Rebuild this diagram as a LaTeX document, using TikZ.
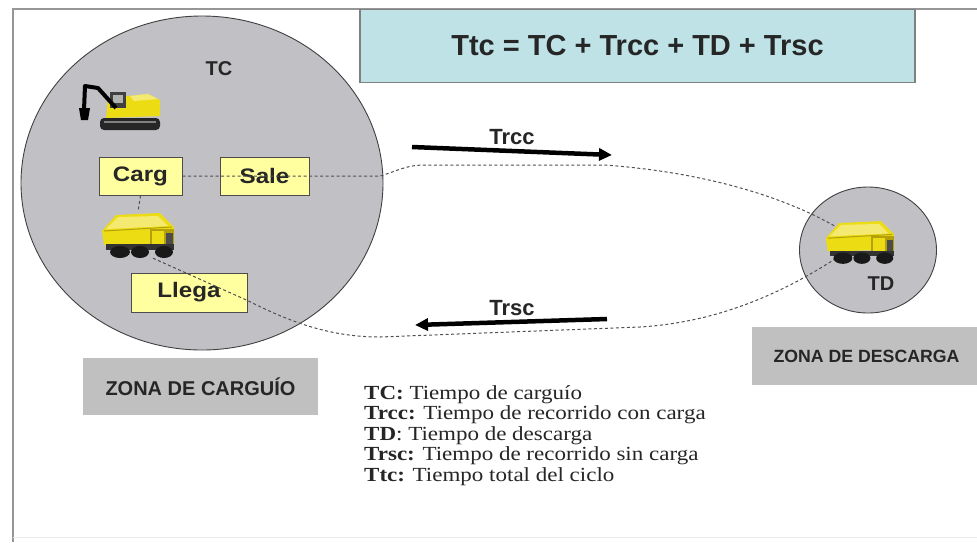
\documentclass[tikz,border=0pt]{standalone}
\usepackage{fontspec}
\setmainfont{Liberation Serif}
\setsansfont{Liberation Sans}
\newfontfamily\widesans{Liberation Sans}[FakeStretch=1.15]
\newfontfamily\wideserif{Liberation Serif}[FakeStretch=1.15]
\usetikzlibrary{arrows.meta,calc,shapes.geometric}

\definecolor{zonefill}{RGB}{193,193,197}
\definecolor{labelfill}{RGB}{192,192,192}
\definecolor{formulafill}{RGB}{190,226,230}
\definecolor{stepfill}{RGB}{255,255,160}
\definecolor{truckyellow}{RGB}{236,220,20}
\definecolor{truckshade}{RGB}{180,160,10}
\definecolor{framegray}{RGB}{150,150,150}
\definecolor{routegray}{RGB}{80,80,80}

\tikzset{
  zone/.style={draw=black!75, line width=0.9pt, fill=zonefill},
  zonelabel/.style={fill=labelfill, font=\sffamily\bfseries, inner sep=0pt, text=black!85},
  stepbox/.style={draw=black!70, line width=1pt, fill=stepfill, inner sep=0pt,
    font=\widesans\bfseries\fontsize{21}{24}\selectfont, text=black!85},
  route/.style={draw=routegray, line width=1pt, dash pattern=on 3pt off 2.5pt},
  travel/.style={line width=4.5pt, -{Triangle[length=13pt,width=12pt]}},
  tag/.style={font=\sffamily\bfseries, text=black!85},
  truck/.pic={
    % dump body
    \fill[truckyellow] (-36,-4) -- (-22,-20) -- (22,-22) -- (36,-8) -- (36,8) -- (-34,10) -- cycle;
    \fill[truckyellow!60!white] (-32,-6) -- (-20,-18) -- (20,-19) -- (30,-9) -- cycle;
    \draw[truckshade, line width=1pt] (-34,-4) -- (34,-8);
    % cab and grille
    \fill[truckshade] (12,-6) rectangle (36,12);
    \fill[truckyellow] (14,-4) rectangle (26,10);
    \fill[black!70] (28,-2) rectangle (35,10);
    % chassis and wheels
    \fill[black!80] (-32,9) rectangle (36,15);
    \fill[black!90] (-18,17) ellipse (10pt and 6pt);
    \fill[black!90] (2,17) ellipse (9pt and 6pt);
    \fill[black!90] (26,17) ellipse (9pt and 6pt);
  },
  digger/.pic={
    % tracks
    \fill[black!85, rounded corners=4pt] (-20,12) rectangle (40,24);
    \fill[black!50] (-16,15) rectangle (36,17);
    % upper body
    \fill[truckyellow] (-12,-8) -- (28,-12) -- (40,-6) -- (40,10) -- (-14,12) -- cycle;
    \fill[truckyellow!60!white] (10,-10) -- (28,-12) -- (38,-7) -- (14,-5) -- cycle;
    \fill[black!75] (-10,-14) rectangle (6,2);
    \fill[black!30] (-7,-11) rectangle (3,-3);
    % boom, stick and bucket
    \draw[black, line width=4pt, line join=round] (-4,2) -- (-22,-18) -- (-35,-20) -- (-36,4);
    \fill[black] (-41,2) -- (-30,2) -- (-32,14) -- (-39,14) -- cycle;
  }
}

\begin{document}
\begin{tikzpicture}[x=1pt, y=-1pt]
  \useasboundingbox (0,0) rectangle (977,542);
  \fill[white] (0,0) rectangle (977,542);

  % slide frame
  \draw[framegray, line width=1.6pt] (13,542) -- (13,9) -- (977,9);
  \draw[black!8, line width=1pt] (13,537) -- (977,537);

  % loading and dumping areas
  \node[zone, ellipse, minimum width=362, minimum height=334, inner sep=0pt] (loadzone) at (202,183) {};
  \node[zone, ellipse, minimum width=137, minimum height=126, inner sep=0pt] (dumpzone) at (868,250) {};

  % cycle time formula
  \node[draw=black!50, line width=1.5pt, fill=formulafill, minimum width=555, minimum height=73,
    inner sep=0pt, font=\sffamily\bfseries\fontsize{29}{34}\selectfont, text=black!85]
    (formula) at (637.5,46) {Ttc = TC + Trcc + TD + Trsc};

  % zone labels
  \node[zonelabel, font=\sffamily\bfseries\fontsize{20}{24}\selectfont,
    minimum width=235, minimum height=57] (loadlabel) at (200.5,386.5) {ZONA DE CARGUÍO};
  \node[zonelabel, font=\sffamily\bfseries\fontsize{17.7}{21}\selectfont,
    minimum width=226, minimum height=58] (dumplabel) at (865,356) {\hspace*{3pt}ZONA DE DESCARGA};

  % equipment
  \node[tag, font=\sffamily\bfseries\fontsize{20}{24}\selectfont] (tc) at (219,69) {TC};
  \node[tag, font=\sffamily\bfseries\fontsize{20}{24}\selectfont] (td) at (881,284) {TD};
  \node[minimum width=80, minimum height=48, inner sep=0pt] (digger) at (120,106) {};
  \node[minimum width=76, minimum height=46, inner sep=0pt] (truckA) at (138,235) {};
  \node[minimum width=72, minimum height=42, inner sep=0pt] (truckB) at (860,242) {};

  % cycle steps
  \node[stepbox, minimum width=83, minimum height=38] (carg) at (140.5,176) {Carg};
  \node[stepbox, minimum width=89, minimum height=38] (sale) at (264.5,176) {Sale};
  \node[stepbox, minimum width=116, minimum height=39] (llega) at (189,292.5) {Llega};

  % haul routes
  \coordinate (tA) at ($(truckA.south)+(15,0)$);
  \coordinate (lgR) at ($(llega.east)+(0,8)$);
  \draw[route] (carg.east) -- (sale.east) -- (380,176)
    .. controls (395,172) and (405,165) .. (425,165) -- (605,165)
    .. controls (700,172) and (795,196) .. (truckB.center);
  \draw[route] (carg.south) -- (truckA.north);
  \draw[route] (tA) -- (lgR)
    .. controls (290,322) and (330,337) .. (380,337) -- (640,327)
    .. controls (720,322) and (790,292) .. (truckB.center);

  \pic at (digger) {digger};
  \pic at (truckA) {truck};
  \pic[scale=0.95] at (truckB) {truck};

  % travel directions
  \coordinate (trccFrom) at (412,147);
  \coordinate (trccTo) at (612,155);
  \coordinate (trscFrom) at (607,319);
  \coordinate (trscTo) at (415,325);
  \draw[travel] (trccFrom) -- (trccTo);
  \draw[travel] (trscFrom) -- (trscTo);
  \node[tag, font=\sffamily\bfseries\fontsize{22}{26}\selectfont] (trcc) at (512,137) {Trcc};
  \node[tag, font=\sffamily\bfseries\fontsize{22}{26}\selectfont] (trsc) at (512,308) {Trsc};

  % legend
  \node[anchor=north west, align=left, inner sep=0pt, font=\wideserif\fontsize{20}{20.5}\selectfont,
    text=black!85] (legend) at (364,385) {%
      \textbf{TC:} Tiempo de carguío\\
      \textbf{Trcc:} Tiempo de recorrido con carga\\
      \textbf{TD}: Tiempo de descarga\\
      \textbf{Trsc:} Tiempo de recorrido sin carga\\
      \textbf{Ttc:} Tiempo total del ciclo};
\end{tikzpicture}
\end{document}
